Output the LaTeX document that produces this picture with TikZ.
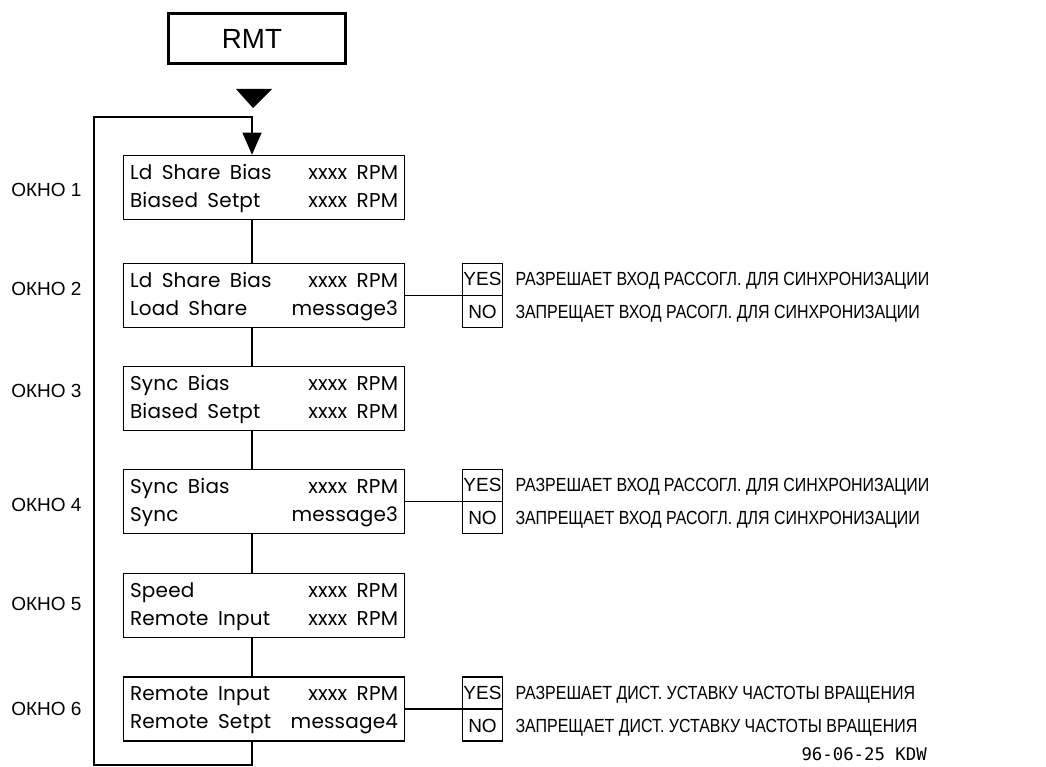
\documentclass[tikz,border=0pt]{standalone}
\usepackage{fontspec}
\usepackage{xcolor}
\newfontfamily\panelfont[LetterSpace=1, WordSpace=1.7]{Poppins}
\newfontfamily\labelfont{Liberation Sans}
\newfontfamily\notefont[FakeStretch=0.84]{Liberation Sans}
\newfontfamily\datefont{DejaVu Sans Mono}
\usetikzlibrary{arrows.meta, calc, positioning}

\begin{document}
\begin{tikzpicture}[
  x=0.75pt, y=-0.75pt,
  panel/.style={draw, line width=1.2pt, minimum width=210.5pt, minimum height=48pt, inner sep=0pt, font=\panelfont\fontsize{15}{21}\selectfont},
  ynbox/.style={draw, line width=1.2pt, minimum width=29.9pt, minimum height=48pt, inner sep=0pt},
  yntext/.style={minimum width=30.75pt, inner sep=0pt, text height=10.2pt, text depth=0pt, font=\labelfont\fontsize{14.25}{17}\selectfont},
  note/.style={inner sep=0pt, text height=10.2pt, text depth=0pt, font=\notefont\fontsize{14.25}{17}\selectfont},
  okno/.style={anchor=west, inner sep=0pt, text height=10.2pt, text depth=0pt, font=\labelfont\fontsize{14.25}{17}\selectfont},
  flow/.style={line width=1.2pt},
  loop/.style={line width=1.2pt, -{Triangle[width=14.25pt, length=16.5pt]}}
]
\useasboundingbox (0,0) rectangle (1046,767);
\node[draw, line width=2.4pt, minimum width=132.6pt, minimum height=37.4pt, inner sep=0pt, font=\labelfont\fontsize{20.8}{24}\selectfont] (rmt) at (257,38.5) {RMT\hspace*{7.5pt}};
\fill (236,89) -- (272,89) -- (253,108) -- cycle;
\coordinate (trunk) at (252,117);
\coordinate (ret) at (94,765);
\node[panel] (b1) at (264,187.5) {\begin{tabular*}{201pt}{@{}l@{\extracolsep{\fill}}r@{}}Ld Share Bias & xxxx RPM\\ Biased Setpt & xxxx RPM\end{tabular*}};
\node[panel] (b2) at (264,295.5) {\begin{tabular*}{201pt}{@{}l@{\extracolsep{\fill}}r@{}}Ld Share Bias & xxxx RPM\\ Load Share & message3\end{tabular*}};
\node[panel] (b3) at (264,398.5) {\begin{tabular*}{201pt}{@{}l@{\extracolsep{\fill}}r@{}}Sync Bias & xxxx RPM\\ Biased Setpt & xxxx RPM\end{tabular*}};
\node[panel] (b4) at (264,501.5) {\begin{tabular*}{201pt}{@{}l@{\extracolsep{\fill}}r@{}}Sync Bias & xxxx RPM\\ Sync & message3\end{tabular*}};
\node[panel] (b5) at (264,605.5) {\begin{tabular*}{201pt}{@{}l@{\extracolsep{\fill}}r@{}}Speed & xxxx RPM\\ Remote Input & xxxx RPM\end{tabular*}};
\node[panel] (b6) at (264,709) {\begin{tabular*}{201pt}{@{}l@{\extracolsep{\fill}}r@{}}Remote Input & xxxx RPM\\ Remote Setpt & message4\end{tabular*}};
\node[okno] (w1) at (11,190) {ОКНО 1};
\node[okno] (w2) at (11,289) {ОКНО 2};
\node[okno] (w3) at (11,391) {ОКНО 3};
\node[okno] (w4) at (11,505) {ОКНО 4};
\node[okno] (w5) at (11,604) {ОКНО 5};
\node[okno] (w6) at (11,709) {ОКНО 6};
\node[ynbox] (yn2) at (482.5,295.5) {};
\node[yntext] (yes2) at ($(yn2.center)!0.5!(yn2.north)$) {YES};
\node[yntext] (no2) at ($(yn2.center)!0.5!(yn2.south)$) {NO};
\node[ynbox] (yn4) at (482.5,501.5) {};
\node[yntext] (yes4) at ($(yn4.center)!0.5!(yn4.north)$) {YES};
\node[yntext] (no4) at ($(yn4.center)!0.5!(yn4.south)$) {NO};
\node[ynbox] (yn6) at (482.5,709) {};
\node[yntext] (yes6) at ($(yn6.center)!0.5!(yn6.north)$) {YES};
\node[yntext] (no6) at ($(yn6.center)!0.5!(yn6.south)$) {NO};
\node[note, right=9pt of yes2] (on2) {РАЗРЕШАЕТ ВХОД РАССОГЛ. ДЛЯ СИНХРОНИЗАЦИИ};
\node[note, right=9pt of no2] (off2) {ЗАПРЕЩАЕТ ВХОД РАСОГЛ. ДЛЯ СИНХРОНИЗАЦИИ};
\node[note, right=9pt of yes4] (on4) {РАЗРЕШАЕТ ВХОД РАССОГЛ. ДЛЯ СИНХРОНИЗАЦИИ};
\node[note, right=9pt of no4] (off4) {ЗАПРЕЩАЕТ ВХОД РАСОГЛ. ДЛЯ СИНХРОНИЗАЦИИ};
\node[note, right=9pt of yes6] (on6) {РАЗРЕШАЕТ ДИСТ. УСТАВКУ ЧАСТОТЫ ВРАЩЕНИЯ};
\node[note, right=9pt of no6] (off6) {ЗАПРЕЩАЕТ ДИСТ. УСТАВКУ ЧАСТОТЫ ВРАЩЕНИЯ};
\node[anchor=east, inner sep=0pt, font=\datefont\fontsize{13}{15}\selectfont] (stamp) at (927,754) {96-06-25 KDW};
\draw[flow] (yn2.west) -- (yn2.east);
\draw[flow] (yn4.west) -- (yn4.east);
\draw[flow] (yn6.west) -- (yn6.east);
\draw[flow] (b2.east) -- (yn2.west);
\draw[flow] (b4.east) -- (yn4.west);
\draw[flow] (b6.east) -- (yn6.west);
\draw[flow] (b1.south -| trunk) -- (b2.north -| trunk);
\draw[flow] (b2.south -| trunk) -- (b3.north -| trunk);
\draw[flow] (b3.south -| trunk) -- (b4.north -| trunk);
\draw[flow] (b4.south -| trunk) -- (b5.north -| trunk);
\draw[flow] (b5.south -| trunk) -- (b6.north -| trunk);
\draw[loop] (b6.south -| trunk) |- (ret) |- (trunk) -- (b1.north -| trunk);
\end{tikzpicture}
\end{document}
